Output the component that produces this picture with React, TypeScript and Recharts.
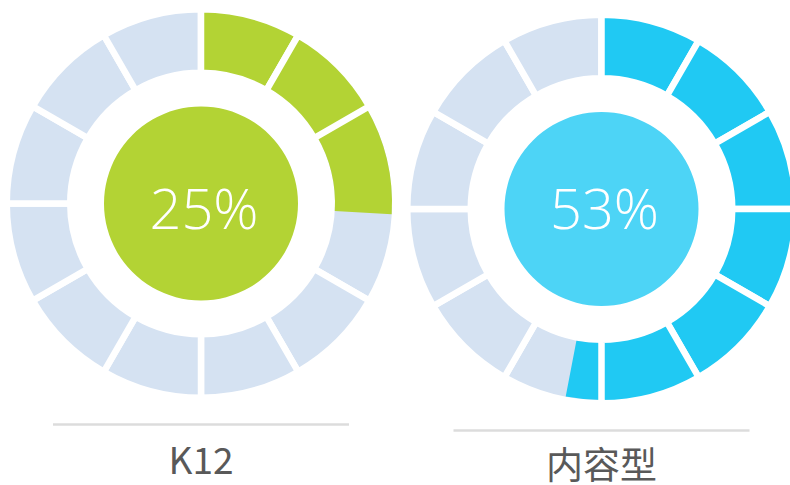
import React from 'react';
import { PieChart, Pie, Cell } from 'recharts';

// ---- data ----
const categories = ['K12', '内容型'];
const percentLabels = [25, 53]; // value shown in the centre
const arcPercent = [25.9, 53.0]; // extent of the coloured ring
const SEGMENTS = 12;

// ---- styling / layout ----
const W = 790;
const H = 485;
const centers = [
  { x: 201, y: 203.5 },
  { x: 601.5, y: 209 },
];
const ringColors = ['#b3d334', '#20c9f3'];
const discColors = ['#b3d334', '#4dd4f6'];
const TRACK = '#d5e2f2';
const GAP = 6.5;
const R_OUT = 191;
const R_IN = 134;
const DISC_R = 97;
const textBaseline = [229.3, 229.3];
const lineY = [424.5, 430.5];
const labelBaseline = [473.5, 479];

function pieces(p: number) {
  const end = (p / 100) * 360;
  const seg = 360 / SEGMENTS;
  let full = 0;
  while ((full + 1) * seg <= end - 5) full++;
  return { full, start: full * seg, len: end - full * seg, end };
}

const trackData = Array.from({ length: SEGMENTS }, (_, i) => ({ name: `s${i}`, v: 1 }));

export default function App() {
  return (
    <div style={{ position: 'fixed', left: 0, top: 0, width: W, height: H, background: '#fff' }}>
      <PieChart width={W} height={H} margin={{ top: 0, right: 0, bottom: 0, left: 0 }}>
        {centers.map((c, idx) => {
          const pc = pieces(arcPercent[idx]);
          const fullData = [
            ...Array.from({ length: pc.full }, (_, i) => ({ name: `f${i}`, v: 30, on: true })),
            { name: 'rest', v: 360 - pc.full * 30, on: false },
          ];
          const lastData = [
            { name: 'pre', v: pc.start, on: false },
            { name: 'last', v: pc.len, on: true },
            { name: 'post', v: 360 - pc.end, on: false },
          ];
          return [
            <Pie
              key={`track${idx}`}
              data={trackData}
              dataKey="v"
              cx={c.x}
              cy={c.y}
              startAngle={90}
              endAngle={-270}
              outerRadius={R_OUT + GAP / 2}
              innerRadius={R_IN - GAP / 2}
              isAnimationActive={false}
              stroke="#fff"
              strokeWidth={GAP}
            >
              {trackData.map((d) => (
                <Cell key={d.name} fill={TRACK} stroke="#fff" strokeWidth={GAP} />
              ))}
            </Pie>,
            <Pie
              key={`last${idx}`}
              data={lastData}
              dataKey="v"
              cx={c.x}
              cy={c.y}
              startAngle={90}
              endAngle={-270}
              outerRadius={R_OUT}
              innerRadius={R_IN}
              isAnimationActive={false}
              stroke="none"
            >
              {lastData.map((d) => (
                <Cell key={d.name} fill={d.on ? ringColors[idx] : 'transparent'} stroke="none" />
              ))}
            </Pie>,
            <Pie
              key={`full${idx}`}
              data={fullData}
              dataKey="v"
              cx={c.x}
              cy={c.y}
              startAngle={90}
              endAngle={-270}
              outerRadius={R_OUT + GAP / 2}
              innerRadius={R_IN - GAP / 2}
              isAnimationActive={false}
            >
              {fullData.map((d) => (
                <Cell
                  key={d.name}
                  fill={d.on ? ringColors[idx] : 'transparent'}
                  stroke={d.on ? '#fff' : 'none'}
                  strokeWidth={d.on ? GAP : 0}
                />
              ))}
            </Pie>,
            <Pie
              key={`disc${idx}`}
              data={[{ name: categories[idx], v: percentLabels[idx] }]}
              dataKey="v"
              cx={c.x}
              cy={c.y}
              outerRadius={DISC_R}
              innerRadius={0}
              isAnimationActive={false}
              stroke="none"
              fill={discColors[idx]}
              labelLine={false}
              label={() => (
                <text
                  x={c.x + 3}
                  y={textBaseline[idx]}
                  textAnchor="middle"
                  fill="#ffffff"
                  fontFamily="'Open Sans', sans-serif"
                  fontWeight={300}
                  fontSize={56}
                >
                  {`${percentLabels[idx]}%`}
                </text>
              )}
            >
              <Cell fill={discColors[idx]} stroke="none" />
            </Pie>,
          ];
        })}
        {centers.map((c, idx) => (
          <g key={`cat${idx}`}>
            <line x1={c.x - 148} x2={c.x + 148} y1={lineY[idx]} y2={lineY[idx]} stroke="#dcdcdc" strokeWidth={2.5} />
            <text
              x={c.x}
              y={labelBaseline[idx]}
              textAnchor="middle"
              fill="#595959"
              fontFamily="'Noto Sans CJK SC', sans-serif"
              fontSize={37}
            >
              {categories[idx]}
            </text>
          </g>
        ))}
      </PieChart>
    </div>
  );
}
